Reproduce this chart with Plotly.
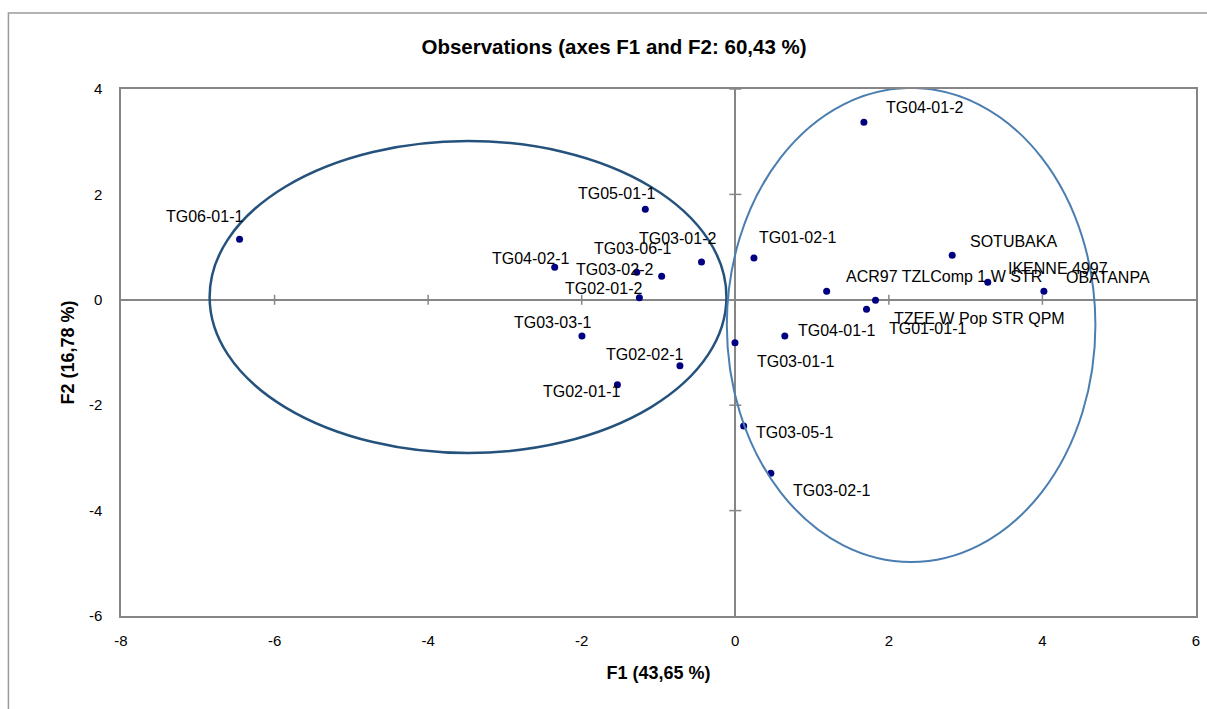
import plotly.graph_objects as go

# ---- data ----
names = ["TG06-01-1", "TG05-01-1", "TG03-01-2", "TG04-02-1", "TG03-06-1", "TG03-02-2",
         "TG02-01-2", "TG03-03-1", "TG02-02-1", "TG02-01-1", "TG03-01-1", "TG04-01-1",
         "TG03-05-1", "TG03-02-1", "TG04-01-2", "TG01-02-1", "ACR97 TZLComp 1 W STR",
         "TZEE W Pop STR QPM", "TG01-01-1", "SOTUBAKA", "IKENNE 4997", "OBATANPA"]
f1 = [-6.456, -1.172, -0.440, -2.352, -0.959, -1.283, -1.249, -1.997, -0.721, -1.535,
      -0.004, 0.645, 0.109, 0.463, 1.675, 0.243, 1.190, 1.826, 1.709, 2.825, 3.288, 4.019]
f2 = [1.148, 1.717, 0.717, 0.617, 0.446, 0.522, 0.040, -0.687, -1.250, -1.610,
      -0.814, -0.687, -2.395, -3.290, 3.368, 0.793, 0.161, -0.010, -0.180, 0.844, 0.332, 0.161]

# label offsets in pixels (dx right, dy up)
label_dx = [-35, -29, -24, -24, -29, -22, -36, -29, -35, -36, 61, 52, 51, 61, 61, 44, 117, 104, 61, 61, 70, 64]
label_dy = [23, 16, 24, 9, 28, 3, 9, 14, 11, -7, -19, 6, -6, -17, 15, 21, 15, -18, -19, 14, 14, 14]

# confidence ellipses (x0, x1, y0, y1) in data units
ell_left = [-6.846, -0.115, -2.907, 3.013]
ell_right = [-0.11, 4.69, -4.975, 4.02]

x_ticks = [-8, -6, -4, -2, 0, 2, 4, 6]
x_ticktext = ["-8", "-6", "-4", "-2", "0", "2", "4", "6"]
y_ticks = [-6, -4, -2, 0, 2, 4]
y_ticktext = ["-6", "-4", "-2", "0", "2", "4"]

GRAY = "#868686"
FONT = "Liberation Sans"

fig = go.Figure()
fig.add_trace(go.Scatter(
    x=f1, y=f2, mode="markers",
    marker=dict(color="#000080", size=7),
    hoverinfo="text", text=names, showlegend=False))

annotations = []
for n, x, y, dx, dy in zip(names, f1, f2, label_dx, label_dy):
    annotations.append(dict(x=x, y=y, xref="x", yref="y", text=n, showarrow=False,
                            xshift=dx, yshift=dy,
                            font=dict(family=FONT, size=16, color="#000000")))

shapes = []
shapes.append(dict(type="circle", xref="x", yref="y",
                   x0=ell_left[0], x1=ell_left[1], y0=ell_left[2], y1=ell_left[3],
                   line=dict(color="#25527C", width=2.5), layer="above"))
shapes.append(dict(type="circle", xref="x", yref="y",
                   x0=ell_right[0], x1=ell_right[1], y0=ell_right[2], y1=ell_right[3],
                   line=dict(color="#4A7EB0", width=2), layer="above"))
for t in x_ticks:
    if t in (0, x_ticks[0], x_ticks[-1]):
        continue
    shapes.append(dict(type="line", xref="x", yref="y", ysizemode="pixel", yanchor=0,
                       x0=t, x1=t, y0=-5, y1=5, line=dict(color=GRAY, width=1.5), layer="below"))
for t in y_ticks:
    if t in (0, y_ticks[0]):
        continue
    shapes.append(dict(type="line", xref="x", yref="y", xsizemode="pixel", xanchor=0,
                       y0=t, y1=t, x0=-6, x1=6, line=dict(color=GRAY, width=1.5), layer="below"))
# outer chart frame (runs off the right and bottom of the picture)
shapes.append(dict(type="rect", xref="paper", yref="paper",
                   x0=(8 - 121) / 1079, x1=1.2, y0=-0.3, y1=(616 - 13) / 527,
                   line=dict(color="#9a9a9a", width=1.5), fillcolor="rgba(0,0,0,0)"))

W, H = 1207, 709
fig.update_layout(
    width=W, height=H,
    margin=dict(l=121, r=W - 1200, t=89, b=H - 616),
    paper_bgcolor="white", plot_bgcolor="white",
    title=dict(text="<b>Observations (axes F1 and F2: 60,43 %)</b>",
               x=614 / W, xref="container", xanchor="center",
               y=1 - 47 / H, yanchor="middle",
               font=dict(family=FONT, size=20.5, color="#000000")),
    annotations=annotations,
    shapes=shapes,
    font=dict(family=FONT, size=15, color="#000000"),
)
fig.update_xaxes(range=[-8, 6], tickvals=x_ticks, ticktext=x_ticktext, showgrid=False,
                 zeroline=True, zerolinecolor=GRAY, zerolinewidth=1.5,
                 showline=True, linecolor=GRAY, linewidth=1.5, mirror=True,
                 ticks="", ticklabelstandoff=10, ticklabeloverflow="allow",
                 tickfont=dict(family=FONT, size=15),
                 title=dict(text="<b>F1 (43,65 %)</b>", standoff=19,
                            font=dict(family=FONT, size=18)))
fig.update_yaxes(range=[-6, 4], tickvals=y_ticks, ticktext=y_ticktext, showgrid=False,
                 zeroline=True, zerolinecolor=GRAY, zerolinewidth=1.5,
                 showline=True, linecolor=GRAY, linewidth=1.5, mirror=True,
                 ticks="", ticklabelstandoff=14, ticklabeloverflow="allow",
                 tickfont=dict(family=FONT, size=15),
                 title=dict(text="<b>F2 (16,78 %)</b>", standoff=10,
                            font=dict(family=FONT, size=18)))

fig.write_html("out.html", config={"displayModeBar": False},
               post_script="document.body.style.margin='0';document.body.style.overflow='hidden';")
